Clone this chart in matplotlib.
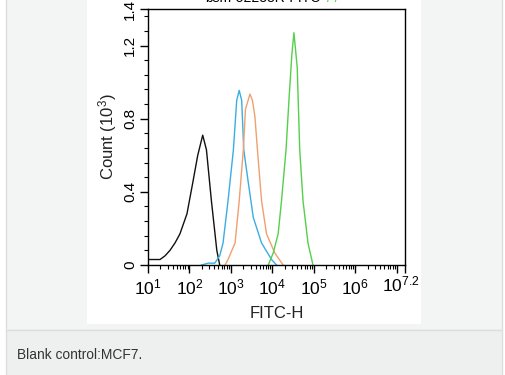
import numpy as np
import matplotlib
matplotlib.use("Agg")
import matplotlib.pyplot as plt
from matplotlib.patches import Rectangle
from matplotlib.ticker import FixedLocator, NullFormatter
from matplotlib.transforms import blended_transform_factory

plt.rcParams['font.family'] = ['Liberation Sans', 'DejaVu Sans']
plt.rcParams['mathtext.fontset'] = 'custom'
plt.rcParams['mathtext.rm'] = 'Liberation Sans'
plt.rcParams['mathtext.it'] = 'Liberation Sans'

# ---- data (x as log10 FITC-H, y as count in thousands) ----
blank_logx = [1.00, 1.29, 1.41, 1.53, 1.65, 1.77, 1.94, 2.08, 2.20, 2.32, 2.41, 2.53, 2.66, 2.73]
blank_y    = [0.03, 0.03, 0.05, 0.08, 0.12, 0.17, 0.28, 0.45, 0.60, 0.71, 0.63, 0.35, 0.08, 0.00]

blue_logx = [2.29, 2.45, 2.61, 2.73, 2.81, 2.93, 3.06, 3.14, 3.20, 3.26, 3.31, 3.42, 3.54, 3.74, 3.98, 4.10]
blue_y    = [0.00, 0.01, 0.01, 0.05, 0.12, 0.35, 0.63, 0.90, 0.955, 0.90, 0.63, 0.45, 0.26, 0.12, 0.03, 0.00]

orange_logx = [2.86, 2.93, 3.10, 3.20, 3.30, 3.35, 3.46, 3.52, 3.58, 3.64, 3.74, 3.86, 4.06, 4.26]
orange_y    = [0.00, 0.03, 0.12, 0.35, 0.63, 0.85, 0.935, 0.90, 0.81, 0.63, 0.35, 0.17, 0.065, 0.00]

green_logx = [3.90, 4.02, 4.14, 4.22, 4.33, 4.40, 4.47, 4.52, 4.55, 4.60, 4.66, 4.74, 4.86, 4.98]
green_y    = [0.00, 0.065, 0.17, 0.35, 0.63, 0.90, 1.15, 1.27, 1.20, 1.08, 0.63, 0.35, 0.12, 0.00]

xtick_exps = [1, 2, 3, 4, 5, 6, 7, 7.2]
xtick_labels = ['$10^{1}$', '$10^{2}$', '$10^{3}$', '$10^{4}$', '$10^{5}$', '$10^{6}$', '', '']
last_xlabel = '$10^{7.2}$'
ytick_vals = [0, 0.4, 0.8, 1.2, 1.4]
ytick_labels = ['0', '0.4', '0.8', '1.2', '1.4']
caption = "Blank control:MCF7."

W, H = 505, 375
fig = plt.figure(figsize=(W / 100, H / 100), dpi=100, facecolor='white')

def fig_rect(x0, y0, x1, y1, **kw):
    r = Rectangle((x0 / W, 1 - y1 / H), (x1 - x0) / W, (y1 - y0) / H,
                  transform=fig.transFigure, zorder=-5, **kw)
    fig.add_artist(r)

fig_rect(6, -2, 502, 330, facecolor='#f3f5f5', edgecolor='#dcdddd', linewidth=1)
fig_rect(6, 330, 502, 377, facecolor='#eeefef', edgecolor='#dcdddd', linewidth=1)
fig_rect(87, -2, 421, 324, facecolor='white', edgecolor='none')

ax = fig.add_axes([148 / W, 1 - 265 / H, (405 - 148) / W, (265 - 9) / H])
ax.set_facecolor('white')

lw = 1.0
ax.plot(10 ** np.array(blank_logx), blank_y, color='#111111', lw=lw)
ax.plot(10 ** np.array(blue_logx), blue_y, color='#3aaee0', lw=lw)
ax.plot(10 ** np.array(orange_logx), orange_y, color='#f0a070', lw=lw)
ax.plot(10 ** np.array(green_logx), green_y, color='#55d04a', lw=lw)

ax.set_xscale('log')
ax.set_xlim(10 ** 1, 10 ** 7.2)
ax.set_ylim(0, 1.4)

ax.set_xticks([10 ** e for e in xtick_exps])
ax.set_xticklabels(xtick_labels, fontsize=12.5)
minor_x = [m * 10 ** d for d in range(1, 8) for m in range(2, 10) if m * 10 ** d < 10 ** 7.2]
ax.xaxis.set_minor_locator(FixedLocator(minor_x))
ax.xaxis.set_minor_formatter(NullFormatter())

# last x label sits between 10^7 and the axis end
trans = blended_transform_factory(ax.transData, ax.transAxes)
ax.text(10 ** 7.11, -9 / 256, last_xlabel, transform=trans, ha='center', va='top',
        fontsize=12.5, clip_on=False)

ax.set_yticks(ytick_vals)
ax.set_yticklabels(ytick_labels, fontsize=11, rotation=90, va='center')
ax.yaxis.set_minor_locator(FixedLocator(np.arange(0, 1.41, 0.08)))

ax.tick_params(which='major', direction='out', length=6, width=1, color='black', pad=3)
ax.tick_params(which='minor', direction='out', length=3, width=0.8, color='black')
ax.tick_params(axis='y', pad=2)
for s in ax.spines.values():
    s.set_linewidth(1)
    s.set_color('black')

ax.set_xlabel('FITC-H', fontsize=12, labelpad=6, color='#222222')
ax.set_ylabel('Count (10$^{3}$)', fontsize=12, labelpad=3, color='#222222')

# clipped header text at the very top
fig.text(205 / W, 1 - 2 / H, 'bsm-52238R-FITC', fontsize=10, va='baseline', ha='left', color='black')
fig.text(327 / W, 1 - 2 / H, '/ /', fontsize=10, va='baseline', ha='left', color='#55d04a')

fig.text(17 / W, 1 - 355 / H, caption, fontsize=9.9, va='center', ha='left', color='#333333')

fig.savefig('out.png', dpi=100, facecolor=fig.get_facecolor())
